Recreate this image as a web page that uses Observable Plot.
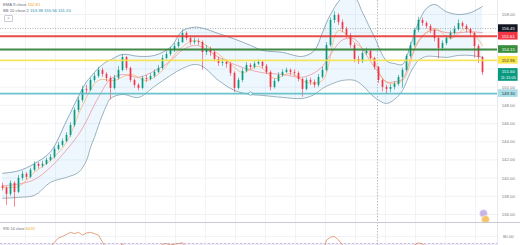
<!DOCTYPE html>
<html><head><meta charset="utf-8">
<script src="https://cdn.jsdelivr.net/npm/d3@7"></script>
<script src="https://cdn.jsdelivr.net/npm/@observablehq/plot@0.6"></script>
<style>
body{margin:0;background:#fff;font-family:"Liberation Sans",Arial,sans-serif;}
#wrap{position:relative;width:520px;height:245px;overflow:hidden;background:#fff}
#wrap svg{display:block;background:transparent}
.leg{position:absolute;left:3px;font-size:4.2px;line-height:5px;color:#6a6d78;white-space:nowrap}
.btn{position:absolute;left:4px;top:15px;width:7px;height:5px;border:0.5px solid #c9ccd4;border-radius:1px;font-size:4px;line-height:5px;text-align:center;color:#555}
#sep{position:absolute;left:0;top:221.5px;width:520px;height:1px;background:#c8cbd3}
</style></head><body><div id="wrap"></div>
<script>
// ---------- data ----------
const opens = [139.10,138.88,138.22,139.43,138.44,139.98,140.42,140.09,140.86,141.52,
141.30,141.52,141.96,142.29,143.16,143.60,144.04,144.70,145.80,147.45,
148.55,149.76,149.65,150.75,151.19,151.85,151.41,150.97,149.87,150.97,
151.85,153.27,152.07,150.75,150.20,149.87,150.97,150.86,151.19,151.63,
152.07,153.16,153.60,154.04,154.48,154.92,155.91,155.36,154.92,155.03,
154.92,153.82,154.15,153.82,153.05,152.62,152.73,152.51,151.52,149.87,
150.75,151.74,152.40,152.18,152.55,152.73,152.29,151.63,149.98,150.64,
151.30,151.63,151.85,151.63,151.52,150.86,149.76,150.75,150.53,150.20,
151.08,151.85,154.59,157.34,157.89,157.12,156.35,155.69,154.59,153.05,
152.80,153.71,153.93,153.16,152.18,150.75,149.98,149.76,149.98,150.31,
151.08,151.85,153.38,154.59,156.24,157.34,157.01,156.68,156.24,155.36,
154.26,154.81,155.36,155.91,156.35,157.01,156.68,156.35,155.91,154.48,
153.27];
const closes = [138.88,138.22,139.43,138.44,139.98,140.42,140.09,140.86,141.52,141.30,
141.52,141.96,142.29,143.16,143.60,144.04,144.70,145.80,147.45,148.55,
149.76,149.65,150.75,151.19,151.85,151.41,150.97,149.87,150.97,151.85,
153.27,152.07,150.75,150.20,149.87,150.97,150.86,151.19,151.63,152.07,
153.16,153.60,154.04,154.48,154.92,155.91,155.36,154.92,155.03,154.92,
153.82,154.15,153.82,153.05,152.62,152.73,152.51,151.52,149.87,150.75,
151.74,152.40,152.18,152.55,152.73,152.29,151.63,149.98,150.64,151.30,
151.63,151.85,151.63,151.52,150.86,149.76,150.75,150.53,150.20,151.08,
151.85,154.59,157.34,157.89,157.12,156.35,155.69,154.59,153.05,152.80,
153.71,153.93,153.16,152.18,150.75,149.98,149.76,149.98,150.31,151.08,
151.85,153.38,154.59,156.24,157.34,157.01,156.68,156.24,155.36,154.26,
154.81,155.36,155.91,156.35,157.01,156.68,156.35,155.91,154.48,153.27,
151.60];
const highs = [139.45,139.05,139.70,139.60,140.30,140.75,140.60,141.10,141.80,141.70,
141.85,142.20,142.60,143.40,143.90,144.30,145.00,146.10,147.70,148.90,
150.10,150.20,151.00,151.50,152.20,152.10,151.60,151.20,151.30,152.30,
153.60,153.40,152.20,150.90,150.40,151.20,151.30,151.50,151.90,152.40,
153.50,153.90,154.40,154.80,155.30,156.30,156.10,155.60,155.40,155.30,
155.10,154.60,154.40,154.00,153.30,153.10,153.00,152.70,151.70,151.00,
152.00,152.70,152.60,152.80,153.00,152.90,152.50,151.80,150.90,151.60,
151.90,152.10,152.00,151.90,151.70,151.00,151.00,151.00,150.80,151.40,
152.20,154.90,157.60,158.30,158.10,157.40,156.60,155.90,154.80,153.40,
154.00,154.30,154.10,153.30,152.30,150.90,150.20,150.30,150.60,151.30,
152.10,153.60,154.90,156.50,157.70,157.60,157.20,156.90,156.40,155.50,
155.10,155.60,156.20,156.70,157.40,157.20,156.90,156.50,156.00,154.70,
153.40];
const lows = [138.60,137.00,138.00,136.80,138.30,139.70,139.80,139.95,140.70,141.00,
141.10,141.40,141.80,142.10,143.00,143.40,143.90,144.50,145.60,147.20,
148.30,149.20,149.50,150.50,151.00,151.10,150.60,148.60,149.70,150.80,
151.70,151.80,150.50,149.90,149.60,149.70,150.50,150.70,151.00,151.50,
151.90,153.00,153.40,153.80,154.30,154.80,155.10,154.60,154.70,154.60,
151.90,153.50,153.40,152.80,152.30,152.30,152.10,151.20,149.40,149.70,
150.50,151.60,151.90,152.00,152.40,152.00,151.40,149.60,149.80,150.50,
151.10,151.50,151.30,151.20,150.60,148.90,149.60,150.20,149.90,150.00,
150.90,151.70,154.40,157.00,156.80,156.00,155.40,154.30,152.70,152.50,
152.60,153.50,152.90,151.90,150.40,149.50,149.20,149.40,149.70,150.10,
149.90,151.70,153.20,154.40,156.00,156.70,156.40,155.90,155.00,153.10,
154.00,154.60,155.20,155.70,156.20,156.40,156.00,155.60,153.20,152.60,
151.30];

// Bollinger band (20, 2)
const bandIdx = [0,4,8,12,16,19,21,22,23,24,26,27,30,34,38,42,45,48,50,54,58,62,65,70,75,78,80,82,85,88,90,93,96,98,100,102,104,106,108,111,114,117,120];
const bandUpper = [140.53,140.80,141.60,142.90,146.30,149.00,150.60,151.10,151.63,152.10,152.80,153.00,153.61,153.40,153.50,154.40,156.20,156.60,156.50,155.90,155.30,154.60,154.05,153.83,153.39,154.05,156.02,158.00,159.80,159.87,158.22,155.50,152.90,152.60,152.51,154.59,157.12,158.66,159.10,158.30,158.00,158.20,158.88];
const bandMid = [139.15,139.35,139.85,141.20,143.10,144.80,146.30,147.20,148.10,148.90,150.40,150.90,151.40,151.10,151.80,152.90,154.10,154.60,154.40,153.30,152.50,151.90,151.60,151.40,151.10,151.60,152.30,153.60,155.20,155.30,154.20,152.20,150.60,150.60,150.90,153.10,155.00,156.00,156.30,156.00,156.00,156.10,156.00];
const bandLower = [137.78,137.89,138.11,139.54,140.09,140.64,141.96,143.39,144.49,145.80,148.00,148.77,149.21,148.88,150.09,151.30,152.07,152.51,152.29,150.75,149.65,149.21,149.10,148.88,148.77,149.21,149.87,150.31,150.75,150.75,150.20,148.88,148.22,148.66,149.65,151.63,152.95,153.39,153.39,153.28,153.50,153.50,153.28];

// EMA 9
const emaIdx = [0,4,8,12,16,20,24,28,32,36,40,44,48,52,56,60,64,68,72,76,80,84,88,92,96,100,104,108,112,116,120];
const emaVal = [138.99,139.10,140.64,141.96,143.94,148.00,150.75,150.75,151.41,150.75,151.85,154.05,155.14,154.27,152.95,151.63,152.29,150.97,151.52,150.53,150.75,156.24,154.92,153.50,150.53,150.75,155.14,156.46,155.36,156.46,154.59];

// RSI 14
const rsi = [52,45,58,47,60,62,58,63,65,62,63,64,
66,72,78,80,83,86,84,86,82,85,86,84,82,72,62,50,
58,64,70,60,50,45,44,55,54,57,60,64,
69,70,68,69,70,71,64,60,61,60,48,
52,50,44,41,42,40,34,25,35,45,50,50,52,53,50,45,33,40,46,49,50,48,47,42,35,43,42,40,48,55,
75,79,80,75,68,62,53,44,43,48,
50,45,39,31,28,27,30,33,40,47,58,64,
68,71,69,66,62,55,48,53,57,60,63,66,62,58,54,42,36,34.91];

// horizontal levels and price tags
const levelVals = [155.61, 154.15, 152.96, 149.30];
const levelColors = ["#e53935", "#2e7d32", "#f5e24a", "#5bbcc6"];
const tagVals = [156.45, 155.61, 154.15, 152.96, 149.30];
const tagLabels = ["156.45", "155.61", "154.15", "152.96", "149.30"];
const tagFills = ["#131722", "#f23645", "#388e3c", "#f9e547", "#a9dde5"];
const tagInk = ["#ffffff", "#ffffff", "#ffffff", "#333333", "#1d3a44"];
const lastPrice = 151.60, lastLabel = "151.60", countdown = "11:15:05";
const crosshairIdx = 93.75, crosshairPrice = 156.45;
const alertIdx = 62;
const tickVals = [136,138,140,142,144,146,148,150,158];
const gridPrices = [136,138,140,142,144,146,148,150,152,154,156,158];
const gridIdx = [5.75,13.25,20.75,28.25,35.75,43.25,50.75,58.25,65.75,73.25,80.75,88.25,95.75,103.25,110.75,118.25];
const eventIdx = [120.25, 120.75];
const eventPrice = [136.1, 135.45];
const eventColors = ["#c9b3e6", "#f6c56a"];
const rsiAxisVal = 80;

// ---------- build ----------
const G = "#089981", R = "#f23645";
const candles = closes.map((c, i) => ({i, o: opens[i], c, h: highs[i], l: lows[i]}));
const col = d => d.c >= d.o ? G : R;
const band = bandIdx.map((i, k) => ({i, up: bandUpper[k], mid: bandMid[k], lo: bandLower[k]}));
const ema = emaIdx.map((i, k) => ({i, v: emaVal[k]}));
const levels = levelVals.map((v, k) => ({v, c: levelColors[k]}));
const tags = tagVals.map((v, k) => ({v, t: tagLabels[k], f: tagFills[k], ink: tagInk[k]}));
const events = eventIdx.map((i, k) => ({i, v: eventPrice[k], c: eventColors[k]}));
const xDomain = [-0.5, 123.75];
const tagX1 = 124.0, tagX2 = 128.9, tagXc = 126.45;

const main = Plot.plot({
  width: 520, height: 222, marginLeft: 0, marginRight: 23, marginTop: 0, marginBottom: 0,
  style: {fontFamily: "Liberation Sans, Arial, sans-serif", fontSize: "4.3px", background: "transparent"},
  x: {domain: xDomain, axis: null},
  y: {domain: [135.12, 159.54], axis: null},
  marks: [
    Plot.ruleY(gridPrices, {stroke: "#eef0f4", strokeWidth: 0.8}),
    Plot.ruleX(gridIdx, {stroke: "#eef0f4", strokeWidth: 0.8}),
    Plot.areaY(band, {x: "i", y1: "lo", y2: "up", fill: "#2196f3", fillOpacity: 0.08, curve: "catmull-rom", clip: true}),
    Plot.line(band, {x: "i", y: "up", stroke: "#7d9cab", strokeWidth: 0.8, curve: "catmull-rom", clip: true}),
    Plot.line(band, {x: "i", y: "lo", stroke: "#7d9cab", strokeWidth: 0.8, curve: "catmull-rom", clip: true}),
    Plot.line(band, {x: "i", y: "mid", stroke: "#ef6c73", strokeWidth: 0.7, strokeOpacity: 0.8, curve: "catmull-rom", clip: true}),
    Plot.line(ema, {x: "i", y: "v", stroke: "#ff9f43", strokeWidth: 0.7, strokeOpacity: 0.85, curve: "catmull-rom", clip: true}),
    Plot.ruleY([crosshairPrice], {stroke: "#8a8d96", strokeWidth: 0.7, strokeDasharray: "1,1.5"}),
    Plot.ruleX([crosshairIdx], {stroke: "#8a8d96", strokeWidth: 0.6, strokeDasharray: "1.5,1.5"}),
    Plot.ruleX(candles, {x: "i", y1: "l", y2: "h", stroke: col, strokeWidth: 0.6}),
    Plot.ruleX(candles, {x: "i", y1: "o", y2: "c", stroke: col, strokeWidth: 1.7}),
    Plot.ruleY(levels, {y: "v", stroke: "c", strokeWidth: 1.8, strokeOpacity: 0.9}),
    Plot.dot([levelVals[3]], {x: () => alertIdx, y: d => d, r: 1.7, stroke: "#4a9fb0", strokeWidth: 0.7, fill: "#fff"}),
    Plot.ruleX([xDomain[1]], {stroke: "#e0e3eb", strokeWidth: 0.8}),
    Plot.dot(events, {x: "i", y: "v", r: 4, fill: "c", stroke: "#fff", strokeWidth: 0.5}),
    Plot.text(tickVals, {x: () => tagXc, y: d => d, text: d => d.toFixed(2), fill: "#787b86", fontSize: 4.3}),
    Plot.rect(tags, {x1: () => tagX1, x2: () => tagX2, y1: d => d.v - 0.42, y2: d => d.v + 0.42, fill: "f"}),
    Plot.text(tags, {x: () => tagXc, y: "v", text: "t", fill: "ink", fontSize: 4.3}),
    Plot.rect([lastPrice], {x1: () => tagX1, x2: () => tagX2, y1: d => d - 0.95, y2: d => d + 0.45, fill: G}),
    Plot.text([lastPrice], {x: () => tagXc, y: d => d + 0.08, text: () => lastLabel, fill: "#fff", fontSize: 4.3}),
    Plot.text([lastPrice], {x: () => tagXc, y: d => d - 0.58, text: () => countdown, fill: "#fff", fontSize: 4})
  ]
});

const rsiRows = rsi.map((v, i) => ({i, v}));
const rsiPlot = Plot.plot({
  width: 520, height: 23, marginLeft: 0, marginRight: 23, marginTop: 0, marginBottom: 0,
  style: {fontFamily: "Liberation Sans, Arial, sans-serif", fontSize: "4.3px", background: "transparent"},
  x: {domain: xDomain, axis: null},
  y: {domain: [67.14, 100], axis: null},
  marks: [
    Plot.rect([{a: xDomain[0], b: xDomain[1], lo: 30, hi: 70}], {x1: "a", x2: "b", y1: "lo", y2: "hi", fill: "#7e57c2", fillOpacity: 0.1, clip: true}),
    Plot.ruleY([70], {stroke: "#b7a6d6", strokeWidth: 0.7, strokeDasharray: "2,2"}),
    Plot.ruleY([rsiAxisVal], {stroke: "#eef0f4", strokeWidth: 0.8}),
    Plot.ruleX(gridIdx, {stroke: "#eef0f4", strokeWidth: 0.8}),
    Plot.line(rsiRows, {x: "i", y: "v", stroke: "#d98b5f", strokeWidth: 0.8, clip: true}),
    Plot.ruleX([crosshairIdx], {stroke: "#8a8d96", strokeWidth: 0.6, strokeDasharray: "1.5,1.5"}),
    Plot.ruleX([xDomain[1]], {stroke: "#e0e3eb", strokeWidth: 0.8}),
    Plot.text([rsiAxisVal], {x: () => tagXc, y: d => d, text: d => d.toFixed(2), fill: "#787b86", fontSize: 4.3})
  ]
});

const wrap = document.getElementById("wrap");
wrap.appendChild(main);
wrap.appendChild(rsiPlot);
wrap.insertAdjacentHTML("beforeend",
  '<div class="leg" style="top:1.5px">EMA 9 close <span style="color:#f39c12">152.81</span></div>' +
  '<div class="leg" style="top:7.5px">BB 20 close 2 <span style="color:#2b8fb0">153.38 155.56 151.20</span></div>' +
  '<div class="btn">^</div>' +
  '<div id="sep"></div>' +
  '<div class="leg" style="top:227px;font-size:3.8px">RSI 14 close <span style="color:#f39c12">34.91</span></div>');
</script>
</body></html>
